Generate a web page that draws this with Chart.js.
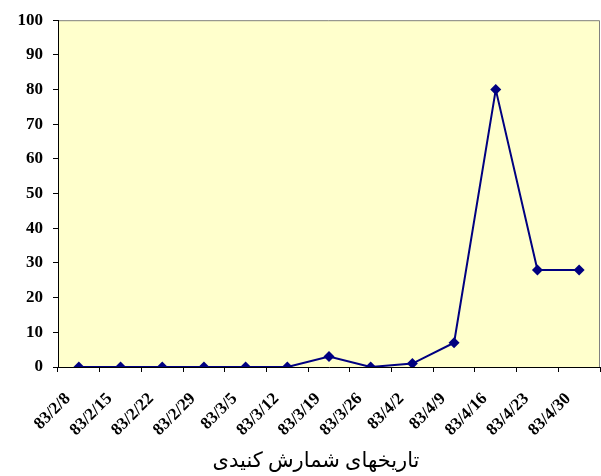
<!DOCTYPE html>
<html>
<head>
<meta charset="utf-8">
<script src="https://cdn.jsdelivr.net/npm/chart.js@4/dist/chart.umd.min.js"></script>
<style>
html,body{margin:0;padding:0;background:#fff;}
#wrap{width:601px;height:476px;position:relative;}
</style>
</head>
<body>
<div id="wrap"><canvas id="c" width="601" height="476"></canvas></div>
<script>
const categories = ['83/2/8','83/2/15','83/2/22','83/2/29','83/3/5','83/3/12','83/3/19','83/3/26','83/4/2','83/4/9','83/4/16','83/4/23','83/4/30'];
const counts = [0,0,0,0,0,0,3,0,1,7,80,28,28];
const yMin = 0, yMax = 100, yStep = 10;
const xTitle = 'تاریخهای شمارش کنیدی';

const bgPlugin = {
  id: 'bg',
  beforeDraw(chart) {
    const a = chart.chartArea, ctx = chart.ctx;
    ctx.save();
    ctx.fillStyle = '#FFFFCC';
    ctx.fillRect(a.left, a.top, a.right - a.left, a.bottom - a.top);
    ctx.strokeStyle = '#808080';
    ctx.lineWidth = 1;
    ctx.beginPath();
    ctx.moveTo(a.left, a.top + 0.5);
    ctx.lineTo(a.right - 0.5, a.top + 0.5);
    ctx.lineTo(a.right - 0.5, a.bottom);
    ctx.stroke();
    ctx.restore();
  },
  afterDraw(chart) {
    const a = chart.chartArea, ctx = chart.ctx;
    ctx.save();
    ctx.fillStyle = '#000';
    ctx.font = '21px "Times New Roman", "Liberation Serif", "DejaVu Sans", serif';
    ctx.textAlign = 'center';
    ctx.textBaseline = 'middle';
    ctx.fillText(xTitle, (a.left + a.right) / 2 - 13, 461);
    ctx.restore();
  }
};

new Chart(document.getElementById('c'), {
  type: 'line',
  data: {
    labels: categories,
    datasets: [{
      data: counts,
      borderColor: '#000080',
      backgroundColor: '#000080',
      borderWidth: 2,
      pointStyle: 'rectRot',
      pointRadius: 5.5,
      pointHoverRadius: 5.5,
      pointBorderWidth: 0,
      tension: 0,
      fill: false
    }]
  },
  options: {
    responsive: false,
    animation: false,
    devicePixelRatio: 1,
    layout: { autoPadding: false, padding: { top: 19, right: 1, left: 0, bottom: 0 } },
    plugins: { legend: { display: false }, tooltip: { enabled: false } },
    scales: {
      x: {
        offset: true,
        grid: { display: true, drawOnChartArea: false, drawTicks: true, tickLength: 5, color: '#000', offset: true },
        border: { display: true, color: '#000', width: 1 },
        ticks: {
          autoSkip: false, maxRotation: 45, minRotation: 45,
          color: '#000', padding: 17, labelOffset: -11,
          font: { family: '"Times New Roman", "Liberation Serif", serif', size: 17, weight: 'bold' }
        },
        title: { display: false },
        afterFit(s) { s.height = 109; s.paddingLeft = 0; s.paddingRight = 0; }
      },
      y: {
        min: yMin, max: yMax,
        grid: { display: true, drawOnChartArea: false, drawTicks: true, tickLength: 5, color: '#000' },
        border: { display: true, color: '#000', width: 1 },
        ticks: {
          stepSize: yStep, color: '#000', padding: 10,
          font: { family: '"Times New Roman", "Liberation Serif", serif', size: 17, weight: 'bold' }
        },
        afterFit(s) { s.width = 58; }
      }
    }
  },
  plugins: [bgPlugin]
});
</script>
</body>
</html>
